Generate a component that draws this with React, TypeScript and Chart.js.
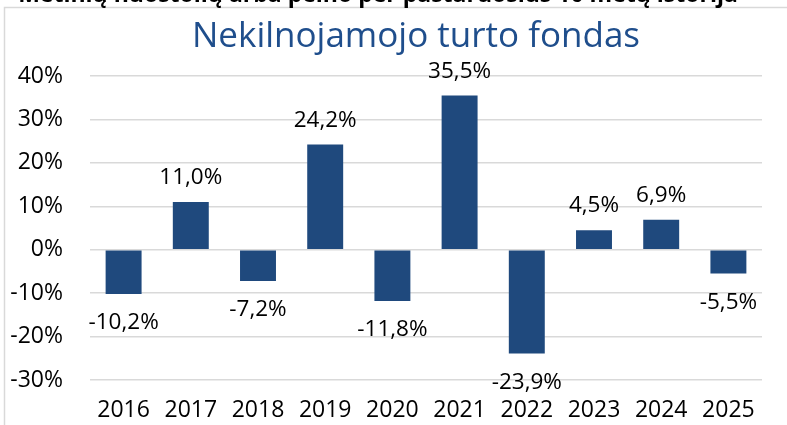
import React, { useEffect, useRef } from "react";
import { Chart, registerables } from "chart.js";

Chart.register(...registerables);

const categories = ["2016", "2017", "2018", "2019", "2020", "2021", "2022", "2023", "2024", "2025"];
const returns = [-10.2, 11.0, -7.2, 24.2, -11.8, 35.5, -23.9, 4.5, 6.9, -5.5];
const yTicks = [-30, -20, -10, 0, 10, 20, 30, 40];
const chartTitle = "Nekilnojamojo turto fondas";
const headerText = "Metinių nuostolių arba pelno per pastaruosius 10 metų istorija";

const BAR = "#1F497D";
const GRID = "#D9D9D9";
const FONT = "'Open Sans', 'Noto Sans', sans-serif";

const fmt = (v: number) => v.toFixed(1).replace(".", ",") + "%";

const decorPlugin = {
  id: "decor",
  beforeDraw(chart: any) {
    const ctx = chart.ctx;
    ctx.save();
    ctx.fillStyle = "#fff";
    ctx.fillRect(0, 0, chart.width, chart.height);
    // frame
    ctx.strokeStyle = GRID;
    ctx.lineWidth = 1.5;
    ctx.strokeRect(4.5, 7.5, chart.width + 50, chart.height + 50);
    // cut header text
    ctx.fillStyle = "#000";
    ctx.font = `bold 23px ${FONT}`;
    ctx.textAlign = "center";
    ctx.textBaseline = "alphabetic";
    ctx.fillText(headerText, 378, 2);
    // title
    ctx.fillStyle = "#1F4E8C";
    ctx.font = `35px ${FONT}`;
    ctx.fillText(chartTitle, 416, 47);
    ctx.restore();
  },
};

const labelPlugin = {
  id: "barLabels",
  afterDatasetsDraw(chart: any) {
    const ctx = chart.ctx;
    const meta = chart.getDatasetMeta(0);
    ctx.save();
    ctx.fillStyle = "#000";
    ctx.font = `22.5px ${FONT}`;
    ctx.textAlign = "center";
    ctx.textBaseline = "alphabetic";
    meta.data.forEach((bar: any, i: number) => {
      const v = returns[i];
      const y = v >= 0 ? bar.y - 18 : bar.y + 35;
      ctx.fillText(fmt(v), bar.x, y);
    });
    ctx.restore();
  },
};

export default function App() {
  const ref = useRef<HTMLCanvasElement | null>(null);
  useEffect(() => {
    if (!ref.current) return;
    const chart = new Chart(ref.current, {
      type: "bar",
      data: {
        labels: categories,
        datasets: [
          {
            data: returns,
            backgroundColor: BAR,
            borderWidth: 0,
            categoryPercentage: 1,
            barPercentage: 0.535,
          },
        ],
      },
      options: {
        animation: false,
        responsive: false,
        devicePixelRatio: 1,
        layout: { padding: { top: 76, right: 25, left: 0, bottom: 0 } },
        plugins: {
          legend: { display: false },
          title: { display: false },
          tooltip: { enabled: false },
        },
        scales: {
          x: {
            grid: { display: false, drawTicks: false },
            border: { display: false },
            ticks: { color: "#000", font: { family: FONT, size: 23 }, padding: 17, maxRotation: 0 },
            afterFit: (s: any) => {
              s.height = 45;
            },
          },
          y: {
            min: -30,
            max: 40,
            afterBuildTicks: (s: any) => {
              s.ticks = yTicks.map((v) => ({ value: v }));
            },
            grid: { color: GRID, lineWidth: 1.5, drawTicks: false },
            border: { display: false },
            ticks: {
              color: "#000",
              font: { family: FONT, size: 23 },
              padding: 27,
              callback: (v: any) => v + "%",
            },
            afterFit: (s: any) => {
              s.width = 90;
            },
          },
        },
      },
      plugins: [decorPlugin, labelPlugin],
    });
    return () => chart.destroy();
  }, []);
  return (
    <div style={{ position: "fixed", left: 0, top: 0, width: 787, height: 425, background: "#fff" }}>
      <canvas ref={ref} width={787} height={425} style={{ display: "block" }} />
    </div>
  );
}
